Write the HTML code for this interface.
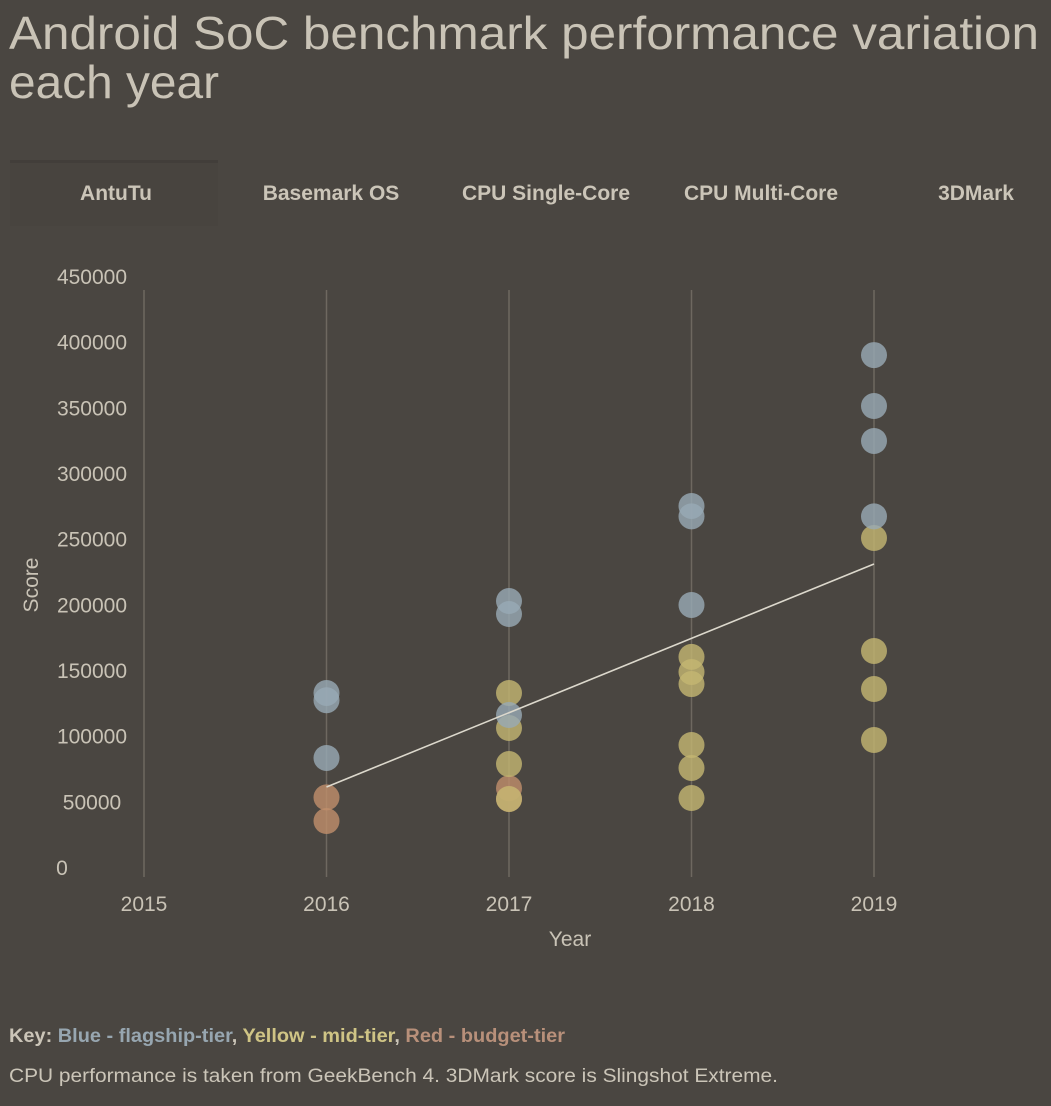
<!DOCTYPE html>
<html><head><meta charset="utf-8">
<style>
html,body{margin:0;padding:0;background:#4a4641;}
svg{display:block;}
text{font-family:"Liberation Sans",sans-serif;}
.n{font-family:"Liberation Sans Narrow","Liberation Sans",sans-serif;}
</style></head>
<body>
<svg id="chart" width="1051" height="1106" viewBox="0 0 1051 1106">
<rect x="0" y="0" width="1051" height="1106" fill="#4a4641"/>
<text x="9" y="49" font-size="46" fill="#c9c3b6" textLength="1030" lengthAdjust="spacingAndGlyphs">Android SoC benchmark performance variation</text>
<text x="9" y="98" font-size="46" fill="#c9c3b6" textLength="210" lengthAdjust="spacingAndGlyphs">each year</text>
<rect x="10" y="160" width="208" height="66" fill="#48443f"/>
<rect x="10" y="160" width="208" height="3" fill="#423e3a"/>
<g font-size="21" font-weight="bold" fill="#cbc5b8" text-anchor="middle" class="n">
<text class="n" x="116" y="200">AntuTu</text>
<text class="n" x="331" y="200">Basemark OS</text>
<text class="n" x="546" y="200">CPU Single-Core</text>
<text class="n" x="761" y="200">CPU Multi-Core</text>
<text class="n" x="976" y="200">3DMark</text>
</g>
<g id="plot"></g>
<text x="570" y="946" font-size="21" fill="#c9c3b6" text-anchor="middle">Year</text>
<text x="38" y="585" font-size="21" fill="#c9c3b6" text-anchor="middle" transform="rotate(-90 38 585)">Score</text>
<text x="9" y="1042" font-size="19" font-weight="bold" class="n" textLength="556" lengthAdjust="spacingAndGlyphs"><tspan fill="#cbc5b8">Key: </tspan><tspan fill="#97a6b0">Blue - flagship-tier</tspan><tspan fill="#cbc5b8">, </tspan><tspan fill="#cfc485">Yellow - mid-tier</tspan><tspan fill="#cbc5b8">, </tspan><tspan fill="#b8907a">Red - budget-tier</tspan></text>
<text x="9" y="1082" font-size="19" fill="#cbc5b8" class="n" textLength="769" lengthAdjust="spacingAndGlyphs">CPU performance is taken from GeekBench 4. 3DMark score is Slingshot Extreme.</text>
</svg>
<script>
const years = [2015, 2016, 2017, 2018, 2019];
const yTicks = [0, 50000, 100000, 150000, 200000, 250000, 300000, 350000, 400000, 450000];
const blueYears = [2016, 2016, 2016, 2017, 2017, 2017, 2018, 2018, 2018, 2019, 2019, 2019, 2019];
const blueScores = [132500, 127000, 83000, 202500, 192600, 115700, 274900, 267000, 199500, 389800, 351000, 324400, 267000];
const yellowYears = [2017, 2017, 2017, 2017, 2018, 2018, 2018, 2018, 2018, 2018, 2019, 2019, 2019, 2019];
const yellowScores = [132500, 105800, 78400, 51800, 160000, 148500, 139300, 92900, 75400, 52500, 250500, 164500, 135500, 96700];
const redYears = [2016, 2016, 2017, 2017];
const redScores = [53000, 35000, 60000, 51800];
const trendYears = [2016, 2019];
const trendScores = [60900, 230700];

const NS = 'http://www.w3.org/2000/svg';
const plot = document.getElementById('plot');
function xs(yr){ return 144 + (yr - 2015) * 182.5; }
function ys(v){ return 867 - v * 591 / 450000; }
function mk(tag, attrs){ const e = document.createElementNS(NS, tag); for (const k in attrs) e.setAttribute(k, attrs[k]); plot.appendChild(e); return e; }

years.forEach(function(yr){
  const l = mk('line', {x1: xs(yr), x2: xs(yr), y1: ys(450000) + 14, y2: ys(0) + 10, stroke: '#6e6860', 'stroke-width': 1.5});
  
  
  const t = mk('text', {x: xs(yr), y: 911, 'font-size': 21, fill: '#c9c3b6', 'text-anchor': 'middle'});
  t.textContent = yr;
  
  
});
yTicks.forEach(function(v){
  const t = mk('text', {x: v === 0 ? 62 : 92, y: ys(v) + 8, 'font-size': 21, fill: '#c9c3b6', 'text-anchor': 'middle'});
  t.textContent = v;
  
  
});
function series(yrsArr, vals, fill, name){
  vals.forEach(function(v, i){
    const c = mk('circle', {cx: xs(yrsArr[i]), cy: ys(v), r: 13, fill: fill, 'fill-opacity': 0.8});
    
    
  });
}
series(redYears, redScores, '#c08e6c', 'budget');
series(yellowYears, yellowScores, '#c4b672', 'mid');
series(blueYears, blueScores, '#98aab5', 'flagship');
const tl = mk('line', {x1: xs(trendYears[0]), y1: ys(trendScores[0]), x2: xs(trendYears[1]), y2: ys(trendScores[1]), stroke: '#dcd8cc', 'stroke-width': 1.6});


</script>
</body></html>
